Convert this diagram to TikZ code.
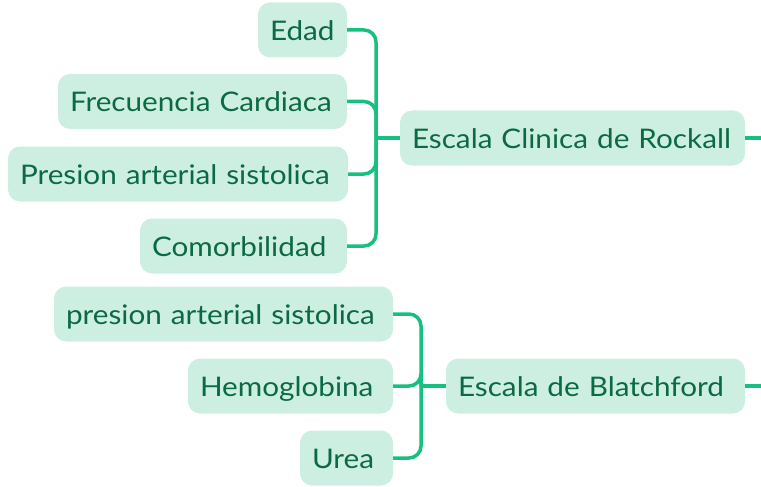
\documentclass[tikz,border=0pt]{standalone}
\usepackage{fontspec}
\setmainfont{Lato}[FakeStretch=1.1]
\definecolor{boxfill}{HTML}{CDEFE2}
\definecolor{txt}{HTML}{0B6A44}
\definecolor{conncol}{HTML}{16C07E}
\begin{document}
\begin{tikzpicture}[x=1pt,y=-1pt,
  box/.style={rounded corners=12pt, fill=boxfill, text=txt, inner xsep=12pt, inner ysep=10pt,
    text height=28pt, text depth=7pt, align=left, font=\fontsize{27}{32}\selectfont},
  conn/.style={draw=conncol, line width=3.5pt, rounded corners=12pt}]
\useasboundingbox (0,0) rectangle (761,487);
% Rockall group
\node[box, text width=89-24pt]  (edad) at (302.5,30)  {Edad};
\node[box, text width=289-24pt] (frec) at (202.5,101.5) {Frecuencia Cardiaca};
\node[box, text width=340-24pt] (pres) at (178,174)   {Presion arterial sistolica};
\node[box, text width=207-24pt] (como) at (243.5,246) {Comorbilidad};
\node[box, text width=345-24pt] (rock) at (572.5,138) {Escala Clinica de Rockall};
\coordinate (rj) at (376,138);
\coordinate (rout) at (761,138);
\foreach \c in {edad,frec,pres,como}
  \draw[conn] (\c.east) -- (\c.east -| rj) -- (rj);
\draw[conn] (rj) -- (rock.west);
\draw[conn] (rock.east) -- (rout);
% Blatchford group
\node[box, text width=339-24pt] (pres2) at (223.5,314) {presion arterial sistolica};
\node[box, text width=205-24pt] (hemo) at (290.5,386) {Hemoglobina};
\node[box, text width=93-24pt]  (urea) at (346.5,458) {Urea};
\node[box, text width=299-24pt] (blat) at (595.5,386) {Escala de Blatchford};
\coordinate (bj) at (421,386);
\coordinate (bout) at (761,386);
\foreach \c in {pres2,hemo,urea}
  \draw[conn] (\c.east) -- (\c.east -| bj) -- (bj);
\draw[conn] (bj) -- (blat.west);
\draw[conn] (blat.east) -- (bout);
\end{tikzpicture}
\end{document}
